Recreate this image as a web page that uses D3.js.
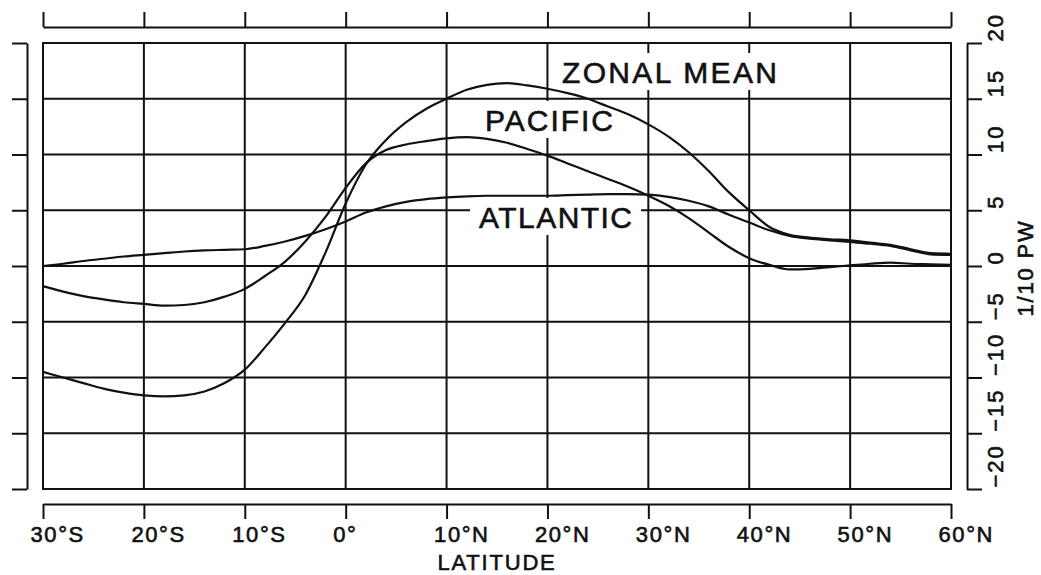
<!DOCTYPE html>
<html>
<head>
<meta charset="utf-8">
<script src="https://cdn.jsdelivr.net/npm/d3@7"></script>
<style>
  body { margin: 0; background: #fff; }
  svg { display: block; }
  text { font-family: "Liberation Sans", Arial, sans-serif; fill: #111; stroke: #111; stroke-width: 0.6px; }
</style>
</head>
<body>
<div id="chart"></div>
<script>
// latitude (deg, negative = south) and heat transport in 1/10 PW
const lats = [-30, -28, -26, -24, -22, -20, -18, -16, -14, -12, -10, -8, -6, -4, -2, 0,
  2, 4, 6, 8, 10, 12, 14, 16, 18, 20, 22, 24, 26, 28, 30, 32, 34, 36, 38, 40,
  42, 44, 46, 48, 50, 52, 54, 56, 58, 60]

const zonalMean = [-9.5, -10.0, -10.5, -11.0, -11.35, -11.6, -11.7, -11.6, -11.25, -10.5, -9.3, -7.3, -5.1, -2.6, 1.2, 5.6,
  9.1, 11.3, 12.9, 14.1, 15.0, 15.8, 16.25, 16.4, 16.2, 15.9, 15.5, 15.0, 14.3, 13.6, 12.7, 11.6, 10.2, 8.5, 6.6, 5.0,
  3.5, 2.8, 2.55, 2.4, 2.3, 2.1, 1.9, 1.5, 1.15, 1.1]

const pacific = [-1.8, -2.3, -2.7, -3.0, -3.25, -3.4, -3.55, -3.5, -3.25, -2.75, -2.05, -0.9, 0.4, 2.2, 4.4, 7.0,
  9.2, 10.4, 10.9, 11.2, 11.45, 11.55, 11.4, 11.05, 10.5, 9.9, 9.2, 8.5, 7.8, 7.1, 6.3, 5.4, 4.3, 3.0, 1.7, 0.7,
  0.1, -0.3, -0.25, -0.1, 0.05, 0.2, 0.3, 0.2, 0.15, 0.1]

const atlantic = [0.0, 0.2, 0.45, 0.65, 0.85, 1.0, 1.15, 1.3, 1.4, 1.45, 1.5, 1.8, 2.2, 2.7, 3.3, 4.0,
  4.8, 5.35, 5.75, 6.0, 6.15, 6.25, 6.3, 6.3, 6.3, 6.3, 6.35, 6.4, 6.45, 6.45, 6.4, 6.2, 5.85, 5.35, 4.6, 3.9,
  3.2, 2.7, 2.45, 2.3, 2.15, 2.0, 1.8, 1.4, 1.05, 1.0]

const latTicks = [-30, -20, -10, 0, 10, 20, 30, 40, 50, 60]
const latLabels = ['30°S', '20°S', '10°S', '0°', '10°N', '20°N', '30°N', '40°N', '50°N', '60°N']
const pwTicks = [-20, -15, -10, -5, 0, 5, 10, 15, 20]
const pwLabels = ['−20', '−15', '−10', '−5', '0', '5', '10', '15', '20']

const W = 1041, H = 575
const ink = '#111'

const x = d3.scaleLinear().domain([-30, 60]).range([43, 951])
const y = d3.scaleLinear().domain([-20, 20]).range([489, 43])

const svg = d3.select('#chart').append('svg')
  .attr('width', W)
  .attr('height', H)

svg.append('rect').attr('width', W).attr('height', H).attr('fill', '#fff')

// grid
const grid = svg.append('g').attr('stroke', ink).attr('stroke-width', 2)
grid.selectAll('.vg').data(latTicks).enter().append('line')
  .attr('x1', d => x(d)).attr('x2', d => x(d))
  .attr('y1', y(20)).attr('y2', y(-20))
grid.selectAll('.hg').data(pwTicks).enter().append('line')
  .attr('y1', d => y(d)).attr('y2', d => y(d))
  .attr('x1', x(-30)).attr('x2', x(60))

// detached axes on all four sides
function styleAxis(g) {
  g.selectAll('path, line').attr('stroke', ink).attr('stroke-width', 2)
}

svg.append('g').attr('transform', 'translate(0,27)')
  .call(d3.axisTop(x).tickValues(latTicks).tickSizeInner(15).tickSizeOuter(0).tickFormat(''))
  .call(styleAxis)

svg.append('g').attr('transform', 'translate(27,0)')
  .call(d3.axisLeft(y).tickValues(pwTicks).tickSizeInner(15).tickSizeOuter(0).tickFormat(''))
  .call(styleAxis)

const bottom = svg.append('g').attr('transform', 'translate(0,504)')
  .call(d3.axisBottom(x).tickValues(latTicks).tickSizeInner(15).tickSizeOuter(0)
    .tickFormat((d, i) => latLabels[i]))
  .call(styleAxis)
bottom.selectAll('text')
  .attr('text-anchor', 'start')
  .attr('x', -13)
  .attr('y', 38)
  .attr('dy', 0)
  .attr('fill', ink)
  .style('font-size', '22px')
  .style('letter-spacing', '1.6px')
  .style('font-family', '"Liberation Sans", Arial, sans-serif')

const right = svg.append('g').attr('transform', 'translate(967,0)')
  .call(d3.axisRight(y).tickValues(pwTicks).tickSizeInner(15).tickSizeOuter(0)
    .tickFormat((d, i) => pwLabels[i]))
  .call(styleAxis)
right.selectAll('text')
  .attr('text-anchor', 'start')
  .attr('transform', 'rotate(-90)')
  .attr('x', 2)
  .attr('y', 36)
  .attr('dy', 0)
  .attr('fill', ink)
  .style('font-size', '22px')
  .style('letter-spacing', '2px')
  .style('font-family', '"Liberation Sans", Arial, sans-serif')

svg.append('text')
  .attr('transform', 'translate(497,570)')
  .attr('text-anchor', 'middle')
  .style('font-size', '22px')
  .style('letter-spacing', '1.8px')
  .text('LATITUDE')

svg.append('text')
  .attr('transform', 'translate(1033,268) rotate(-90)')
  .attr('text-anchor', 'middle')
  .style('font-size', '22px')
  .style('letter-spacing', '1.8px')
  .text('1/10 PW')

// frame
svg.append('rect')
  .attr('x', x(-30)).attr('y', y(20))
  .attr('width', x(60) - x(-30)).attr('height', y(-20) - y(20))
  .attr('fill', 'none').attr('stroke', ink).attr('stroke-width', 2)

// curve labels sit on white boxes that break the grid
const labels = [
  { text: 'ZONAL MEAN', lat: 21.44, val: 16.41, len: 215 },
  { text: 'PACIFIC', lat: 13.81, val: 12.11, len: 128 },
  { text: 'ATLANTIC', lat: 13.22, val: 3.41, len: 153 }
]
const capH = 22
svg.append('g').selectAll('rect').data(labels).enter().append('rect')
  .attr('x', d => x(d.lat) - 9)
  .attr('y', d => y(d.val) - capH - 8)
  .attr('width', d => d.len + 18)
  .attr('height', capH + 15)
  .attr('fill', '#fff')

const line = d3.line()
  .x((d, i) => x(lats[i]))
  .y(d => y(d))
  .curve(d3.curveMonotoneX)

svg.append('g').selectAll('path').data([zonalMean, pacific, atlantic]).enter().append('path')
  .attr('d', line)
  .attr('fill', 'none')
  .attr('stroke', ink)
  .attr('stroke-width', 2.2)

svg.append('g').selectAll('text').data(labels).enter().append('text')
  .attr('x', d => x(d.lat))
  .attr('y', d => y(d.val))
  .attr('textLength', d => d.len)
  .attr('lengthAdjust', 'spacing')
  .style('font-size', '30px')
  .text(d => d.text)
</script>
</body>
</html>
